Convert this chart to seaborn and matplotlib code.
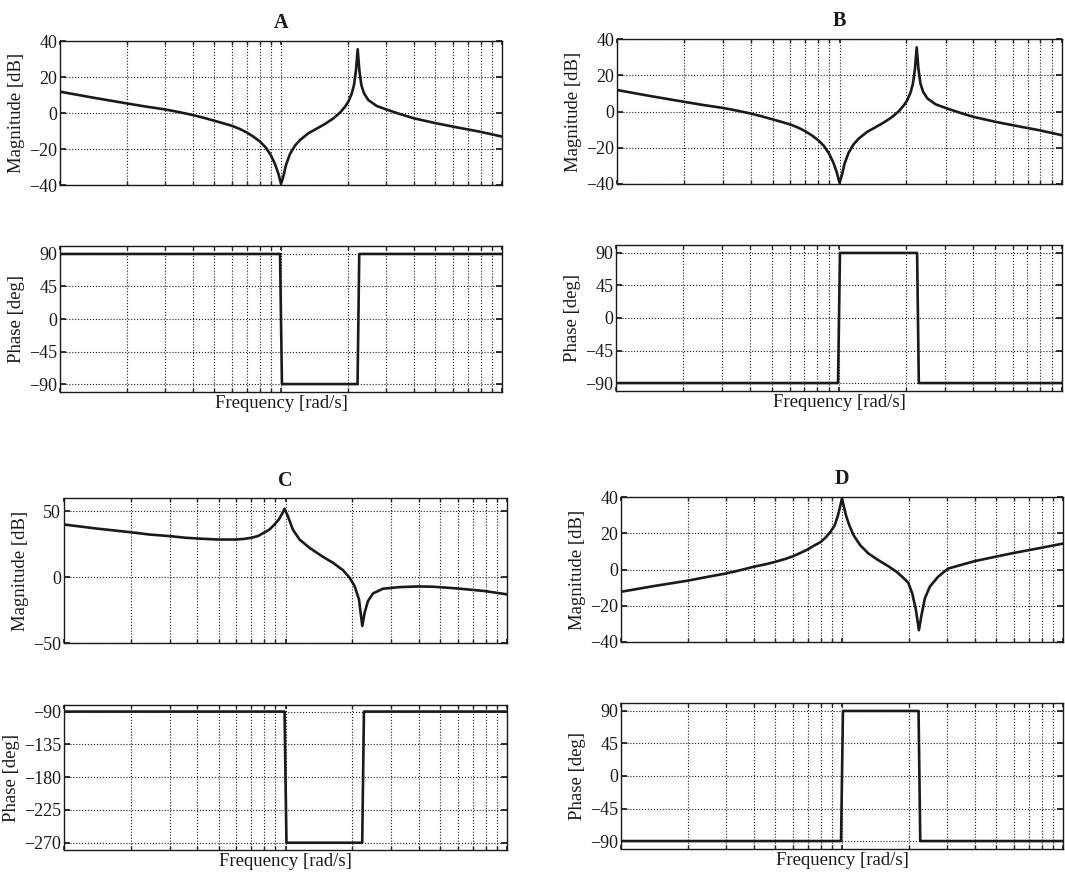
import matplotlib
matplotlib.use("Agg")
import matplotlib.pyplot as plt
import numpy as np
import pandas as pd
import seaborn as sns

# frequency [rad/s] and magnitude [dB]
freq_ab = [0.1, 0.1416, 0.199, 0.2466, 0.2985, 0.349, 0.398, 0.4454, 0.499, 0.548, 0.602,
           0.652, 0.702, 0.749, 0.804, 0.852, 0.898, 0.939, 0.972, 1.0, 1.025, 1.053, 1.098,
           1.157, 1.219, 1.329, 1.45, 1.581, 1.725, 1.849, 1.949, 2.017, 2.088, 2.14, 2.185,
           2.223, 2.262, 2.309, 2.375, 2.484, 2.71, 3.007, 3.456, 4.012, 5.028, 6.025, 6.99,
           7.95, 10]
mag_ab = [11.85, 8.5, 5.4, 3.5, 2.0, 0.4, -1.1, -2.6, -4.3, -5.7, -7.2,
          -8.9, -10.9, -13.1, -15.9, -19.1, -23.3, -28.3, -33.5, -39.3, -35.2, -28.9, -22.8,
          -18.1, -15.0, -11.3, -8.7, -6.1, -3.0, 0.2, 3.5, 6.3, 10.6, 15.6, 23.9,
          35.4, 23.9, 15.6, 10.9, 7.2, 3.9, 1.9, -0.6, -3.0, -5.7, -7.6, -9.1,
          -10.4, -13.1]

freq_c = [0.1, 0.139, 0.1985, 0.243, 0.299, 0.356, 0.399, 0.453, 0.498, 0.558, 0.598,
          0.653, 0.6995, 0.75, 0.798, 0.847, 0.892, 0.933, 0.966, 0.99, 1.025, 1.079, 1.157,
          1.284, 1.475, 1.637, 1.816, 1.947, 2.051, 2.146, 2.222, 2.276, 2.357, 2.483, 2.755,
          3.277, 3.98, 4.637, 5.952, 7.94, 10]
mag_c = [39.9, 36.9, 34.1, 32.3, 31.1, 29.8, 29.3, 28.8, 28.5, 28.5, 28.5,
         29.0, 29.8, 31.1, 33.6, 36.1, 39.9, 43.7, 48.2, 51.8, 46.2, 36.1, 28.5,
         22.2, 15.4, 10.9, 5.3, -0.5, -6.8, -16.9, -37.1, -27.0, -18.2, -12.4, -8.8,
         -7.6, -7.1, -7.3, -8.6, -10.6, -13.1]

freq_d = [0.1, 0.1398, 0.1995, 0.2428, 0.2987, 0.343, 0.398, 0.452, 0.498, 0.556, 0.6,
          0.6497, 0.698, 0.748, 0.802, 0.847, 0.886, 0.927, 0.959, 0.983, 1.0, 1.017, 1.042,
          1.079, 1.128, 1.209, 1.318, 1.462, 1.621, 1.768, 1.894, 1.995, 2.079, 2.16, 2.228,
          2.29, 2.371, 2.496, 2.721, 3.018, 3.979, 5.066, 6.022, 8.07, 10]
mag_d = [-12.3, -9.2, -6.2, -4.2, -2.2, -0.5, 1.5, 2.9, 4.2, 5.9, 7.3,
         9.2, 11.0, 13.2, 15.2, 17.9, 20.7, 24.4, 29.9, 35.3, 39.3, 35.3, 29.9,
         24.4, 18.9, 13.4, 8.8, 5.1, 1.8, -1.3, -4.6, -7.3, -13.2, -22.3, -33.5,
         -25.1, -15.9, -9.5, -4.0, 0.5, 4.6, 7.3, 9.2, 12.1, 14.3]

# phase [deg]
phase_freq_a = [0.1, 0.99, 1.01, 2.22, 2.26, 10]
phase_a = [90, 90, -90, -90, 90, 90]
phase_freq_b = [0.1, 0.99, 1.01, 2.24, 2.28, 10]
phase_b = [-90, -90, 90, 90, -90, -90]
phase_freq_c = [0.1, 0.99, 1.01, 2.22, 2.26, 10]
phase_c = [-90, -90, -270, -270, -90, -90]
phase_freq_d = [0.1, 0.99, 1.01, 2.22, 2.26, 10]
phase_d = [-90, -90, 90, 90, -90, -90]

mag_ticks_ab = [-40, -20, 0, 20, 40]
mag_ticks_c = [-50, 0, 50]
phase_ticks = [-90, -45, 0, 45, 90]
phase_ticks_c = [-270, -225, -180, -135, -90]

sns.set_theme(style="white")
plt.rcParams['font.family'] = ['Liberation Serif', 'DejaVu Serif']

W, H = 1065, 874
fig = plt.figure(figsize=(W / 100, H / 100), dpi=100)
fig.patch.set_facecolor("white")


def box(l, t, r, b):
    return [l / W, 1 - b / H, (r - l) / W, (b - t) / H]


def style(ax, yticks, ylim, ylabel):
    ax.set_xscale('log')
    ax.set_xlim(0.1, 10)
    ax.set_ylim(*ylim)
    ax.set_yticks(yticks)
    ax.set_yticklabels([str(v).replace('-', '\u2212') for v in yticks])
    ax.grid(True, which='both', axis='x', ls=':', color='k', lw=0.8)
    ax.grid(True, which='major', axis='y', ls=':', color='k', lw=0.8)
    ax.tick_params(axis='x', which='both', direction='in', labelbottom=False,
                   top=True, bottom=True, length=3)
    ax.tick_params(axis='y', direction='in', left=True, right=True, length=4,
                   labelsize=13, pad=2, colors='k')
    for s in ax.spines.values():
        s.set_color('k')
        s.set_linewidth(1.0)
    ax.set_ylabel(ylabel, fontsize=13.5, labelpad=3, color='k')
    ax.set_xlabel('')


def draw(ax, f, v):
    df = pd.DataFrame({'f': f, 'v': v})
    sns.lineplot(data=df, x='f', y='v', ax=ax, color='k', lw=1.9,
                 sort=False, estimator=None)


panels = [
    ('A', (60, 41, 502, 185), (60, 246, 502, 392), freq_ab, mag_ab, mag_ticks_ab, (-40, 40),
     phase_freq_a, phase_a, phase_ticks, (-101, 101)),
    ('B', (617, 39, 1062, 184), (616, 245, 1062, 391), freq_ab, mag_ab, mag_ticks_ab, (-40, 40),
     phase_freq_b, phase_b, phase_ticks, (-101, 101)),
    ('C', (64, 498, 507, 643), (64, 705, 507, 850), freq_c, mag_c, mag_ticks_c, (-50, 60),
     phase_freq_c, phase_c, phase_ticks_c, (-280, -81)),
    ('D', (621, 497, 1063, 642), (621, 703, 1063, 849), freq_d, mag_d, mag_ticks_ab, (-40, 40),
     phase_freq_d, phase_d, phase_ticks, (-101, 101)),
]

for name, mbox, pbox, f, m, mt, ml, pf, p, pt, pl in panels:
    ax1 = fig.add_axes(box(*mbox))
    draw(ax1, f, m)
    style(ax1, mt, ml, 'Magnitude [dB]')
    ax1.set_title(name, fontsize=14.5, fontweight='bold', pad=9, color='k')

    ax2 = fig.add_axes(box(*pbox))
    draw(ax2, pf, p)
    style(ax2, pt, pl, 'Phase [deg]')
    ax2.set_xlabel('Frequency [rad/s]', fontsize=13.5, labelpad=2, color='k')

fig.savefig('out.png', dpi=100, facecolor='white')
